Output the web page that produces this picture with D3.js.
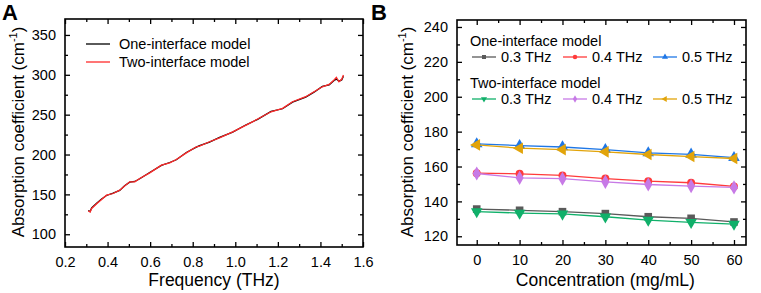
<!DOCTYPE html>
<html>
<head>
<meta charset="utf-8">
<script src="https://cdn.jsdelivr.net/npm/d3@7"></script>
<style>
  body { margin: 0; background: #fff; }
  svg { font-family: "Liberation Sans", Arial, sans-serif; }
  .axis path { display: none; }
  .axis line { stroke: #000; stroke-width: 1.3; }
  .axis text { font-size: 14.5px; fill: #000; }
</style>
</head>
<body>
<svg id="chart"></svg>
<script>
// ---- panel A data ----
const freq = [0.309, 0.318, 0.325, 0.350, 0.372, 0.395, 0.426, 0.457, 0.480, 0.504, 0.528, 0.551, 0.598,
  0.653, 0.692, 0.723, 0.770, 0.817, 0.832, 0.879, 0.926, 0.988, 1.051, 1.105, 1.168, 1.222,
  1.269, 1.331, 1.370, 1.409, 1.441, 1.464, 1.475, 1.487, 1.500, 1.508];
const alphaTwo = [129.5, 127.8, 132.3, 138.5, 143.6, 149.0, 151.1, 155.3, 160.5, 165.7, 165.7, 170.0, 177.0,
  186.7, 189.6, 193.8, 202.1, 209.7, 210.6, 216.0, 221.0, 228.5, 236.9, 244.5, 253.6, 257.9,
  266.2, 272.5, 278.8, 285.0, 288.0, 293.5, 296.9, 291.3, 294.3, 299.7];
const alphaOne = [129.8, 128.4, 133.0, 139.2, 144.3, 148.6, 151.6, 155.0, 160.9, 165.4, 166.2, 169.6, 177.5,
  186.3, 190.0, 193.4, 202.5, 209.3, 211.1, 215.6, 221.4, 228.1, 237.3, 244.1, 254.1, 257.4,
  265.7, 272.0, 278.2, 285.4, 287.4, 292.8, 294.6, 292.0, 293.6, 298.2];
const xTicksA = [0.2, 0.4, 0.6, 0.8, 1.0, 1.2, 1.4, 1.6];
const yTicksA = [100, 150, 200, 250, 300, 350];
const legendA = ["One-interface model", "Two-interface model"];

// ---- panel B data ----
const conc = [0, 10, 20, 30, 40, 50, 60];
const one03 = [135.6, 134.9, 134.1, 133.0, 131.2, 130.3, 128.2];
const one04 = [156.2, 155.8, 154.9, 153.1, 151.6, 150.7, 148.6];
const one05 = [173.0, 172.0, 171.2, 169.7, 167.8, 167.0, 165.1];
const two03 = [134.1, 133.3, 132.8, 131.2, 129.3, 128.0, 127.0];
const two04 = [156.0, 153.5, 153.0, 151.2, 149.7, 148.8, 148.0];
const two05 = [172.4, 170.5, 169.7, 168.4, 166.9, 165.7, 164.6];
const freqLabels = ["0.3 THz", "0.4 THz", "0.5 THz"];
const xTicksB = [0, 10, 20, 30, 40, 50, 60];
const yTicksB = [120, 140, 160, 180, 200, 220, 240];

const W = 761, H = 293;
const svg = d3.select("#chart").attr("width", W).attr("height", H);

// draws the box with inward ticks on all four sides
function drawFrame(g, x, y, xMajor, xMinor, yMajor, yMinor, xFmt) {
  const [x0, x1] = x.range();
  const [y1, y0] = y.range();
  g.append("g").attr("class", "axis").attr("transform", `translate(0,${y1})`)
    .call(d3.axisBottom(x).tickValues(xMajor).tickSize(-5).tickPadding(10).tickFormat(xFmt));
  g.append("g").attr("class", "axis").attr("transform", `translate(0,${y1})`)
    .call(d3.axisBottom(x).tickValues(xMinor).tickSize(-3).tickFormat(""));
  g.append("g").attr("class", "axis").attr("transform", `translate(0,${y0})`)
    .call(d3.axisTop(x).tickValues(xMajor).tickSize(-5).tickFormat(""));
  g.append("g").attr("class", "axis").attr("transform", `translate(0,${y0})`)
    .call(d3.axisTop(x).tickValues(xMinor).tickSize(-3).tickFormat(""));
  g.append("g").attr("class", "axis").attr("transform", `translate(${x0},0)`)
    .call(d3.axisLeft(y).tickValues(yMajor).tickSize(-5).tickPadding(9));
  g.append("g").attr("class", "axis").attr("transform", `translate(${x0},0)`)
    .call(d3.axisLeft(y).tickValues(yMinor).tickSize(-3).tickFormat(""));
  g.append("g").attr("class", "axis").attr("transform", `translate(${x1},0)`)
    .call(d3.axisRight(y).tickValues(yMajor).tickSize(-5).tickFormat(""));
  g.append("g").attr("class", "axis").attr("transform", `translate(${x1},0)`)
    .call(d3.axisRight(y).tickValues(yMinor).tickSize(-3).tickFormat(""));
  g.append("rect")
    .attr("x", x0).attr("y", y0)
    .attr("width", x1 - x0).attr("height", y1 - y0)
    .attr("fill", "none").attr("stroke", "#000").attr("stroke-width", 1.6);
}

function yTitle(g, cx, cy) {
  const t = g.append("text")
    .attr("transform", `translate(${cx},${cy}) rotate(-90)`)
    .attr("text-anchor", "middle")
    .style("font-size", "17px");
  t.append("tspan").text("Absorption coefficient (cm");
  t.append("tspan").attr("dy", -7).style("font-size", "11px").text("-1");
  t.append("tspan").attr("dy", 7).text(")");
}

// ================= Panel A =================
const gA = svg.append("g");
const xA = d3.scaleLinear().domain([0.2, 1.6]).range([65, 363]);
const yA = d3.scaleLinear().domain([84, 370]).range([247, 19]);

const lineA = d3.line().x((d, i) => xA(freq[i])).y(d => yA(d));
gA.append("path").datum(alphaOne).attr("d", lineA)
  .attr("fill", "none").attr("stroke", "#000").attr("stroke-width", 1.3);
gA.append("path").datum(alphaTwo).attr("d", lineA)
  .attr("fill", "none").attr("stroke", "#ff2a2a").attr("stroke-width", 1.3);

drawFrame(gA, xA, yA, xTicksA, d3.range(3, 16, 2).map(v => v / 10),
  yTicksA, [125, 175, 225, 275, 325], d3.format(".1f"));

gA.append("text").attr("x", xA(0.9)).attr("y", 286).attr("text-anchor", "middle")
  .style("font-size", "17.5px").text("Frequency (THz)");
yTitle(gA, 24, 132);
svg.append("text").attr("x", 2).attr("y", 20).style("font-size", "22px")
  .style("font-weight", "bold").text("A");

const legA = gA.selectAll(".legA").data(legendA).join("g")
  .attr("transform", (d, i) => `translate(86,${44 + i * 18})`);
legA.append("line").attr("x1", 0).attr("x2", 24)
  .attr("stroke", (d, i) => i ? "#ff2a2a" : "#000").attr("stroke-width", 1.3);
legA.append("text").attr("x", 33).attr("dy", "0.35em").style("font-size", "14.5px").text(d => d);

// ================= Panel B =================
const gB = svg.append("g");
const xB = d3.scaleLinear().domain([-4.6, 62.8]).range([457, 746]);
const yB = d3.scaleLinear().domain([115, 244]).range([245, 20]);

const seriesB = [
  { vals: one03, color: "#5a5a5a", shape: d3.symbolSquare, rot: 0 },
  { vals: one04, color: "#ff3b3b", shape: d3.symbolCircle, rot: 0 },
  { vals: one05, color: "#1f77e6", shape: d3.symbolTriangle, rot: 0 },
  { vals: two03, color: "#10b06a", shape: d3.symbolTriangle, rot: 180 },
  { vals: two04, color: "#c77ae6", shape: d3.symbolDiamond, rot: 0 },
  { vals: two05, color: "#e2a40a", shape: d3.symbolTriangle, rot: -90 }
];

const lineB = d3.line().x((d, i) => xB(conc[i])).y(d => yB(d));
seriesB.forEach(s => {
  gB.append("path").datum(s.vals).attr("d", lineB)
    .attr("fill", "none").attr("stroke", s.color).attr("stroke-width", 1.3);
  gB.selectAll(null).data(s.vals).join("path")
    .attr("transform", (d, i) => `translate(${xB(conc[i])},${yB(d)}) rotate(${s.rot})`)
    .attr("d", d3.symbol().type(s.shape).size(s.shape === d3.symbolCircle ? 50 : 58))
    .attr("fill", s.color);
});

drawFrame(gB, xB, yB, xTicksB, [5, 15, 25, 35, 45, 55],
  yTicksB, [130, 150, 170, 190, 210, 230], d3.format("d"));

gB.append("text").attr("x", xB(30)).attr("y", 286).attr("text-anchor", "middle")
  .style("font-size", "17.5px").text("Concentration (mg/mL)");
yTitle(gB, 413, 132);
svg.append("text").attr("x", 371).attr("y", 20).style("font-size", "22px")
  .style("font-weight", "bold").text("B");

// legend B: two groups of three
const groupTitles = ["One-interface model", "Two-interface model"];
const itemX = [472, 563, 653];
groupTitles.forEach((title, gi) => {
  const top = 46 + gi * 42;
  gB.append("text").attr("x", 470).attr("y", top).style("font-size", "14.5px").text(title);
  freqLabels.forEach((lab, k) => {
    const s = seriesB[gi * 3 + k];
    const cy = top + 11;
    gB.append("line").attr("x1", itemX[k]).attr("x2", itemX[k] + 24)
      .attr("y1", cy).attr("y2", cy).attr("stroke", s.color).attr("stroke-width", 1.3);
    gB.append("path")
      .attr("transform", `translate(${itemX[k] + 12},${cy}) rotate(${s.rot})`)
      .attr("d", d3.symbol().type(s.shape).size(16)).attr("fill", s.color);
    gB.append("text").attr("x", itemX[k] + 29).attr("y", cy).attr("dy", "0.35em")
      .style("font-size", "14.5px").text(lab);
  });
});
</script>
</body>
</html>
